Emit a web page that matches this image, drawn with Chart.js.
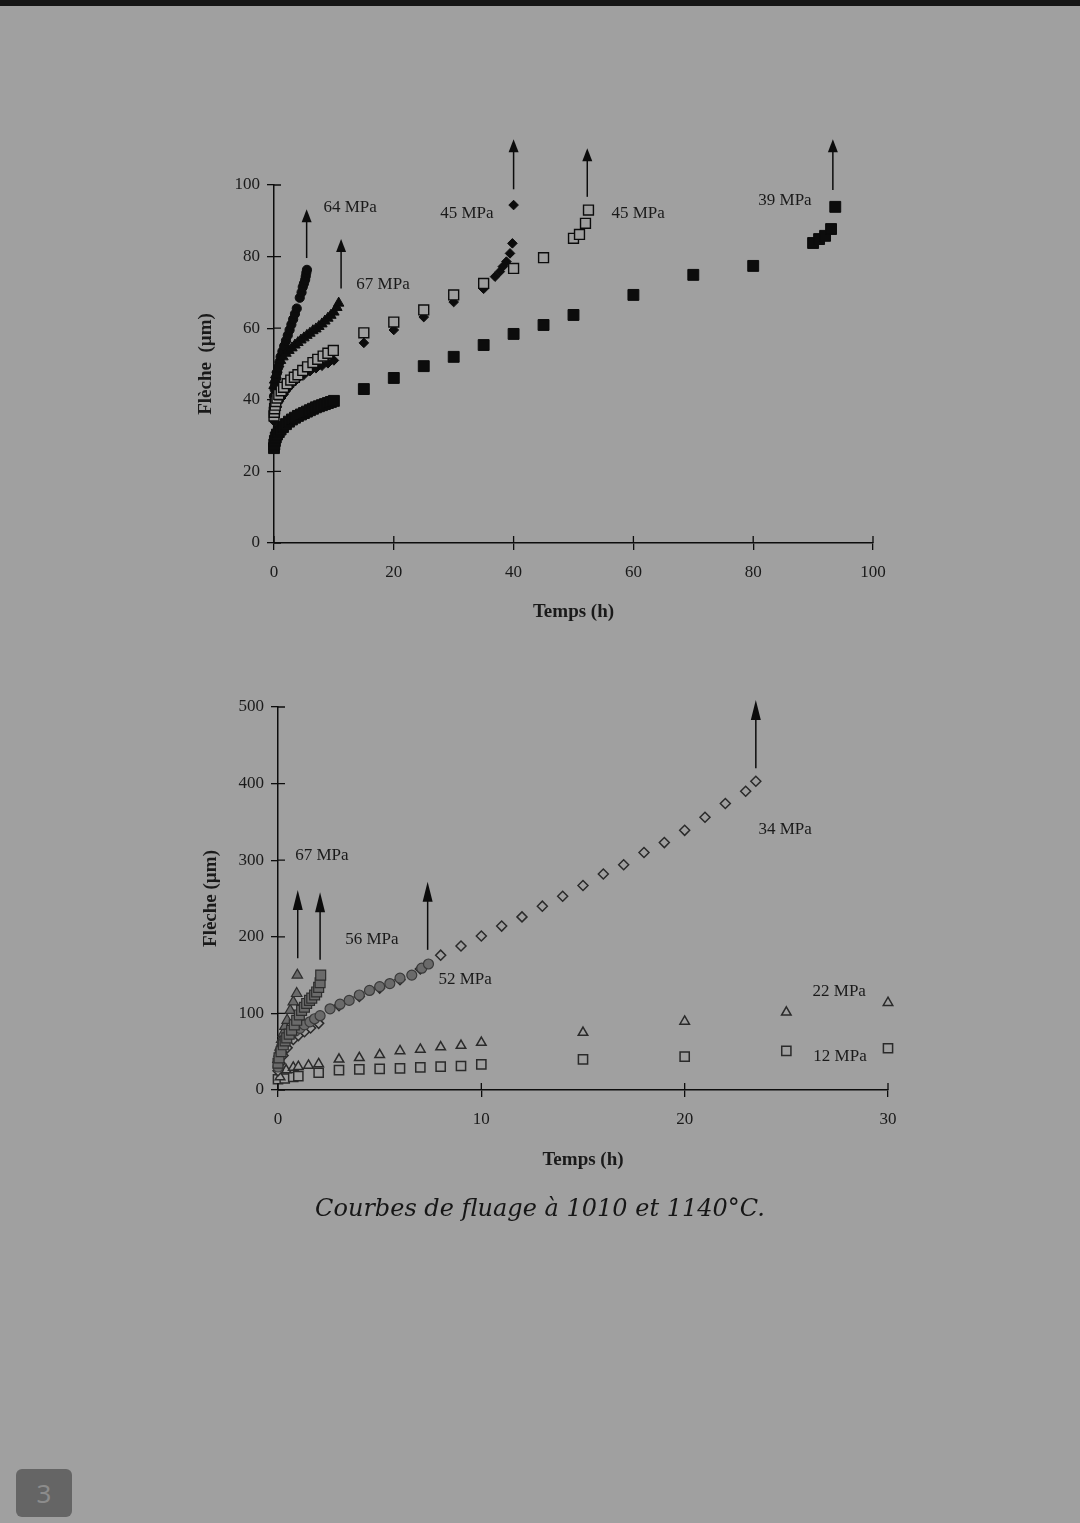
<!DOCTYPE html>
<html lang="fr">
<head>
<meta charset="UTF-8">
<title>Courbes de fluage à 1010 et 1140°C</title>
<script src="https://cdn.jsdelivr.net/npm/chart.js@4.4.0/dist/chart.umd.min.js"></script>
<style>
  html, body { margin: 0; padding: 0; }
  body {
    width: 1080px; height: 1523px; position: relative; overflow: hidden;
    background: #a0a0a0;
    font-family: 'Liberation Serif', serif;
  }
  .topbar { position: absolute; left: 0; top: 0; width: 1080px; height: 6px; background: #161616; }
  canvas { position: absolute; }
  #chartHaut { left: 150px; top: 130px; }
  #chartBas { left: 150px; top: 680px; }
  .legende {
    position: absolute; left: 0; width: 1080px; top: 1194px; text-align: center;
    font-family: 'DejaVu Serif', serif; font-style: italic; font-size: 24px; color: #161616;
  }
  .page {
    position: absolute; left: 16px; top: 1469px; width: 56px; height: 48px;
    background: #656565; border-radius: 6px; color: #8c8c8c;
    font-family: 'Noto Sans', sans-serif; font-size: 26px; line-height: 48px; text-align: center;
  }
</style>
</head>
<body>
<div class="topbar"></div>
<canvas id="chartHaut" width="780" height="520"></canvas>
<canvas id="chartBas" width="780" height="520"></canvas>
<div class="legende">Courbes de fluage à 1010 et 1140°C.</div>
<div class="page">3</div>

<script>
// ---------- graphe du haut ----------
const hautXTicks = [0, 20, 40, 60, 80, 100];
const hautYTicks = [0, 20, 40, 60, 80, 100];

// 64 MPa (ronds noirs)
const t64 = [0, 0.1, 0.2, 0.35, 0.5, 0.7, 0.9, 1.1, 1.4, 1.7, 2.0, 2.3, 2.6, 2.9, 3.2, 3.5, 3.8, 4.3, 4.6, 4.8, 5.0, 5.2, 5.3, 5.4, 5.5];
const f64 = [41, 43, 44.5, 46, 47.5, 49, 50.5, 52, 53.5, 55, 56.5, 58, 59.5, 61, 62.5, 64, 65.5, 68.5, 70, 71.5, 72.5, 73.5, 74.5, 75.5, 76.3];
// 67 MPa (triangles noirs)
const t67 = [0, 0.1, 0.3, 0.5, 0.8, 1.1, 1.5, 2, 2.5, 3, 3.5, 4, 4.5, 5, 5.5, 6, 6.5, 7, 7.5, 8, 8.5, 9, 9.5, 10, 10.5, 10.8];
const f67 = [44, 45.5, 47, 48.5, 50, 51, 52, 53, 53.8, 54.5, 55.3, 56, 56.7, 57.3, 58, 58.6, 59.3, 59.8, 60.5, 61.2, 62, 62.8, 63.6, 64.5, 65.8, 67];
// 45 MPa (losanges noirs)
const tLos45 = [0, 0.1, 0.3, 0.5, 0.8, 1.2, 1.6, 2, 2.5, 3, 3.5, 4, 5, 6, 7, 8, 9, 10, 15, 20, 25, 30, 35, 36.9, 37.7, 38.2, 38.8, 39.4, 39.8, 40];
const fLos45 = [34, 35.5, 37, 38, 39.5, 40.5, 41.5, 42.5, 43.5, 44.5, 45.2, 46, 47, 48, 48.8, 49.5, 50.2, 51, 55.9, 59.5, 63.1, 67.3, 71, 74.4, 75.8, 77.2, 78.6, 80.9, 83.7, 94.4];
// 45 MPa (carrés blancs)
const tCar45 = [0, 0.05, 0.1, 0.2, 0.3, 0.5, 0.8, 1.2, 1.6, 2.2, 2.8, 3.4, 4, 4.8, 5.6, 6.5, 7.3, 8.2, 9, 9.9, 15, 20, 25, 30, 35, 40, 45, 50, 51, 52, 52.5];
const fCar45 = [35.5, 36.5, 37.5, 38.5, 39.5, 40.5, 41.5, 42.5, 43.5, 44.5, 45.5, 46.3, 47, 48.2, 49.2, 50.4, 51.3, 52.2, 53, 53.8, 58.7, 61.7, 65.1, 69.3, 72.5, 76.7, 79.7, 85.1, 86.2, 89.3, 93];
// 39 MPa (carrés noirs)
const t39 = [0, 0.05, 0.15, 0.3, 0.5, 0.8, 1.1, 1.5, 2, 2.5, 3, 3.5, 4, 4.5, 5, 5.5, 6, 6.5, 7, 7.5, 8, 8.5, 9, 9.5, 10, 15, 20, 25, 30, 35, 40, 45, 50, 60, 70, 80, 90, 91, 92, 93, 93.7];
const f39 = [26.5, 27.5, 28.5, 29.5, 30.3, 31, 31.7, 32.4, 33.2, 33.9, 34.5, 35, 35.5, 35.9, 36.3, 36.7, 37.1, 37.5, 37.9, 38.2, 38.5, 38.8, 39.1, 39.4, 39.7, 43, 46.1, 49.4, 52, 55.3, 58.4, 60.9, 63.7, 69.3, 74.9, 77.4, 83.8, 84.9, 85.8, 87.7, 93.9];

// flèches de rupture et étiquettes
const hautFlecheX = [5.45, 11.2, 40, 52.3, 93.3];
const hautFlecheDe = [79.6, 71.1, 98.8, 96.7, 98.6];
const hautFlecheA = [93.2, 84.9, 112.8, 110.3, 112.8];
const hautEtiq = ['64 MPa', '67 MPa', '45 MPa', '45 MPa', '39 MPa'];
const hautEtiqX = [12.7, 18.2, 32.2, 60.8, 85.3];
const hautEtiqY = [93.6, 72.3, 91.9, 91.9, 95.8];

// ---------- graphe du bas ----------
const basXTicks = [0, 10, 20, 30];
const basYTicks = [0, 100, 200, 300, 400, 500];

// 67 MPa (triangles gris)
const tTri67 = [0, 0.05, 0.1, 0.18, 0.26, 0.34, 0.45, 0.6, 0.75, 0.92, 0.95];
const fTri67 = [40, 48, 56, 66, 74, 83, 91, 104, 115, 126, 150];
// 56 MPa (carrés gris)
const tCar56 = [0, 0.05, 0.15, 0.26, 0.35, 0.43, 0.55, 0.67, 0.8, 0.92, 1.05, 1.16, 1.3, 1.41, 1.55, 1.66, 1.8, 1.9, 2.0, 2.07, 2.1];
const fCar56 = [35, 42, 50, 59, 64, 68, 73, 78, 85, 91, 98, 104, 108, 113, 117, 120, 124, 128, 134, 140, 150];
// 52 MPa (ronds gris)
const tRond52 = [0, 0.05, 0.1, 0.18, 0.26, 0.4, 0.55, 0.67, 0.85, 1.08, 1.3, 1.57, 1.8, 2.07, 2.56, 3.05, 3.5, 4.0, 4.5, 5.0, 5.5, 6.0, 6.58, 7.07, 7.4];
const fRond52 = [30, 40, 48, 57, 65, 69, 72, 74, 77, 80.5, 85, 89, 93, 97, 106, 112, 117, 124, 130, 135, 139, 146, 150, 159, 164.5];
// 34 MPa (losanges blancs)
const tLos34 = [0, 0.1, 0.25, 0.45, 0.75, 1.0, 1.3, 1.6, 2, 3, 4, 5, 6, 7, 8, 9, 10, 11, 12, 13, 14, 15, 16, 17, 18, 19, 20, 21, 22, 23, 23.5];
const fLos34 = [25, 35, 45, 55, 66, 71, 76, 81, 87, 110, 122, 133, 144, 158, 176, 188, 201, 214, 226, 240, 253, 267, 282, 294, 310, 323, 339, 356, 374, 390, 403];
// 22 MPa (triangles blancs)
const tTri22 = [0.1, 0.4, 0.75, 1, 1.5, 2, 3, 4, 5, 6, 7, 8, 9, 10, 15, 20, 25, 30];
const fTri22 = [17, 26, 29.5, 30.5, 32, 34, 40, 42, 46, 51, 53, 56, 58, 62, 75, 89.5, 101.5, 114];
// 12 MPa (carrés blancs)
const tCar12 = [0, 0.33, 0.75, 1, 2, 3, 4, 5, 6, 7, 8, 9, 10, 15, 20, 25, 30];
const fCar12 = [14, 15, 17, 18, 22.5, 26, 27, 27.5, 28.3, 29.5, 30.5, 31.3, 33.5, 40, 43.5, 51, 54.5];

const basFlecheX = [0.97, 2.07, 7.36, 23.5];
const basFlecheDe = [172, 170, 183, 420];
const basFlecheA = [261, 258, 272, 509];
const basEtiq = ['67 MPa', '56 MPa', '52 MPa', '34 MPa', '22 MPa', '12 MPa'];
const basEtiqX = [2.16, 4.62, 9.2, 24.94, 27.6, 27.64];
const basEtiqY = [305.5, 195.8, 143.6, 339.4, 128, 43.1];

// ---------- styles ----------
const ENCRE = '#0c0c0c';
const TEXTE = '#1a1a1a';
const FOND = '#a0a0a0';
const GRIS = '#6a6a6a';
const POLICE = "'Liberation Serif', 'Times New Roman', serif";

function serie(xs, ys, style) {
  return Object.assign({
    data: xs.map((v, i) => ({ x: v, y: ys[i] })),
    showLine: false,
    clip: false
  }, style);
}

// petites marques vers l'intérieur, flèches et étiquettes
function annotations(fx, fde, fa, tete, etiq, ex, ey) {
  return {
    id: 'annotations',
    afterDraw(chart) {
      const { ctx, chartArea: a, scales: { x, y } } = chart;
      ctx.save();
      ctx.strokeStyle = ENCRE;
      ctx.fillStyle = ENCRE;
      ctx.lineWidth = 1.3;
      ctx.beginPath();
      x.ticks.forEach(t => {
        const p = x.getPixelForValue(t.value);
        ctx.moveTo(p, a.bottom); ctx.lineTo(p, a.bottom - 7);
      });
      y.ticks.forEach(t => {
        const p = y.getPixelForValue(t.value);
        ctx.moveTo(a.left, p); ctx.lineTo(a.left + 7, p);
      });
      ctx.stroke();

      ctx.lineWidth = 1.5;
      fx.forEach((v, i) => {
        const px = x.getPixelForValue(v);
        const p0 = y.getPixelForValue(fde[i]);
        const p1 = y.getPixelForValue(fa[i]);
        ctx.beginPath();
        ctx.moveTo(px, p0); ctx.lineTo(px, p1 + tete.h - 2);
        ctx.stroke();
        ctx.beginPath();
        ctx.moveTo(px, p1);
        ctx.lineTo(px - tete.w / 2, p1 + tete.h);
        ctx.lineTo(px + tete.w / 2, p1 + tete.h);
        ctx.closePath();
        ctx.fill();
      });

      ctx.fillStyle = TEXTE;
      ctx.font = '17px ' + POLICE;
      ctx.textAlign = 'center';
      ctx.textBaseline = 'middle';
      etiq.forEach((s, i) => {
        ctx.fillText(s, x.getPixelForValue(ex[i]), y.getPixelForValue(ey[i]));
      });
      ctx.restore();
    }
  };
}

function axe(ticks, titre, largeur, hauteur, titrePad) {
  const horiz = hauteur !== null;
  return {
    type: 'linear',
    min: ticks[0],
    max: ticks[ticks.length - 1],
    afterBuildTicks: s => { s.ticks = ticks.map(v => ({ value: v })); },
    afterFit: s => { if (horiz) s.height = hauteur; else s.width = largeur; },
    border: { display: true, color: ENCRE, width: 1.5 },
    grid: { drawOnChartArea: false, drawTicks: true, tickLength: 7, color: ENCRE, lineWidth: 1.3 },
    ticks: { color: TEXTE, font: { family: POLICE, size: 17 }, padding: horiz ? 12 : 7, maxRotation: 0 },
    title: {
      display: true, text: titre, color: TEXTE,
      font: { family: POLICE, size: 19, weight: 'bold' },
      padding: horiz ? { bottom: titrePad, top: 0 } : { top: titrePad, bottom: 0 }
    }
  };
}

function options(pad, xAxe, yAxe) {
  return {
    responsive: false,
    animation: false,
    layout: { padding: pad },
    plugins: { legend: { display: false }, tooltip: { enabled: false } },
    scales: { x: xAxe, y: yAxe }
  };
}

new Chart(document.getElementById('chartHaut'), {
  type: 'scatter',
  data: {
    datasets: [
      serie(tCar45, fCar45, { pointStyle: 'rect', pointRadius: 7, backgroundColor: FOND, borderColor: ENCRE, borderWidth: 1.4 }),
      serie(tLos45, fLos45, { pointStyle: 'rectRot', pointRadius: 4.8, backgroundColor: ENCRE, borderColor: ENCRE, borderWidth: 1 }),
      serie(t67, f67, { pointStyle: 'triangle', pointRadius: 6, backgroundColor: ENCRE, borderColor: ENCRE, borderWidth: 1 }),
      serie(t64, f64, { pointStyle: 'circle', pointRadius: 4.6, backgroundColor: ENCRE, borderColor: ENCRE, borderWidth: 1 }),
      serie(t39, f39, { pointStyle: 'rect', pointRadius: 7.7, backgroundColor: ENCRE, borderColor: ENCRE, borderWidth: 1 })
    ]
  },
  options: options(
    { top: 55, right: 57, left: 0, bottom: 0 },
    axe(hautXTicks, 'Temps (h)', null, 107, 27),
    axe(hautYTicks, 'Flèche  (µm)', 124, null, 45)
  ),
  plugins: [annotations(hautFlecheX, hautFlecheDe, hautFlecheA, { w: 10, h: 13 }, hautEtiq, hautEtiqX, hautEtiqY)]
});

new Chart(document.getElementById('chartBas'), {
  type: 'scatter',
  data: {
    datasets: [
      serie(tCar56, fCar56, { pointStyle: 'rect', pointRadius: 7, backgroundColor: GRIS, borderColor: '#2e2e2e', borderWidth: 1.2 }),
      serie(tTri67, fTri67, { pointStyle: 'triangle', pointRadius: 6, backgroundColor: GRIS, borderColor: '#2e2e2e', borderWidth: 1.2 }),
      serie(tRond52, fRond52, { pointStyle: 'circle', pointRadius: 5, backgroundColor: GRIS, borderColor: '#3a3a3a', borderWidth: 1.2 }),
      serie(tLos34, fLos34, { pointStyle: 'rectRot', pointRadius: 5, backgroundColor: FOND, borderColor: '#2a2a2a', borderWidth: 1.5 }),
      serie(tTri22, fTri22, { pointStyle: 'triangle', pointRadius: 5.5, backgroundColor: FOND, borderColor: '#2a2a2a', borderWidth: 1.5 }),
      serie(tCar12, fCar12, { pointStyle: 'rect', pointRadius: 6.5, backgroundColor: FOND, borderColor: '#2a2a2a', borderWidth: 1.5 })
    ]
  },
  options: options(
    { top: 27, right: 42, left: 0, bottom: 0 },
    axe(basXTicks, 'Temps (h)', null, 110, 29),
    axe(basYTicks, 'Flèche (µm)', 128, null, 50)
  ),
  plugins: [annotations(basFlecheX, basFlecheDe, basFlecheA, { w: 10, h: 20 }, basEtiq, basEtiqX, basEtiqY)]
});
</script>
</body>
</html>
